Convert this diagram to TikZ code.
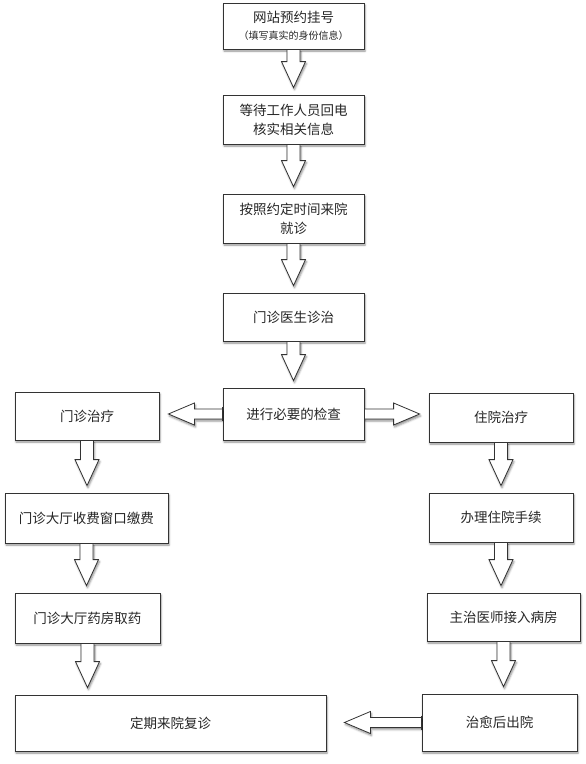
\documentclass[tikz,border=0pt]{standalone}
\usepackage{fontspec}
\newfontfamily\cjk{Noto Sans CJK SC}
\usetikzlibrary{calc,shadows.blur}
\tikzset{
  myshadow/.style={blur shadow={shadow xshift=1pt, shadow yshift=-2pt, shadow blur radius=2pt, shadow opacity=45}},
  box/.style={draw=black!80, line width=0.8pt, fill=white, align=center, inner sep=0pt,
    font=\cjk\fontsize{13.5}{19}\selectfont, text=black!85, myshadow},
  blockarrow/.style={draw=black!80, line width=0.8pt, fill=white, line join=miter, myshadow},
  edgeline/.style={draw=black!80, line width=0.8pt},
}
\newcommand\vblock[2]{%
  \draw[blockarrow] let \p1=(#1.south), \p2=(#2.north) in
    (\x1-6.5pt,\y1) -- (\x1-6.5pt,\y2+33pt) -- (\x1-12pt,\y2+33pt) -- (\x1,\y2+7pt)
    -- (\x1+12pt,\y2+33pt) -- (\x1+6.5pt,\y2+33pt) -- (\x1+6.5pt,\y1);
  \draw[edgeline] let \p1=(#1.south) in (\x1-8pt,\y1) -- (\x1+8pt,\y1);}
\newcommand\lblock[3]{%
  \draw[blockarrow] let \p1=(#1.west), \p2=(#2.east) in
    (\x1,\y1+5pt) -- (\x2+#3pt+26pt,\y1+5pt) -- (\x2+#3pt+26pt,\y1+11pt) -- (\x2+#3pt,\y1)
    -- (\x2+#3pt+26pt,\y1-11pt) -- (\x2+#3pt+26pt,\y1-5pt) -- (\x1,\y1-5pt);
  \draw[edgeline] let \p1=(#1.west) in (\x1,\y1+7pt) -- (\x1,\y1-7pt);}
\newcommand\rblock[3]{%
  \draw[blockarrow] let \p1=(#1.east), \p2=(#2.west) in
    (\x1,\y1+5pt) -- (\x2-#3pt-26pt,\y1+5pt) -- (\x2-#3pt-26pt,\y1+11pt) -- (\x2-#3pt,\y1)
    -- (\x2-#3pt-26pt,\y1-11pt) -- (\x2-#3pt-26pt,\y1-5pt) -- (\x1,\y1-5pt);
  \draw[edgeline] let \p1=(#1.east) in (\x1,\y1+7pt) -- (\x1,\y1-7pt);}
\begin{document}
\begin{tikzpicture}[x=1pt,y=-1pt]
\useasboundingbox (0,0) rectangle (586,764);
% centre column
\node[box, minimum width=141pt, minimum height=46pt] (n1) at (293.5,26)
  {网站预约挂号\\[-2pt]{\fontsize{10}{14}\selectfont （填写真实的身份信息）}};
\node[box, minimum width=141pt, minimum height=49pt] (n2) at (293.5,119.5) {等待工作人员回电\\核实相关信息};
\node[box, minimum width=141pt, minimum height=49pt] (n3) at (293.5,218.5) {按照约定时间来院\\就诊};
\node[box, minimum width=141pt, minimum height=48pt] (n4) at (293.5,317) {门诊医生诊治};
\node[box, minimum width=141pt, minimum height=52pt] (n5) at (293.5,414) {进行必要的检查};
% left column
\node[box, minimum width=144pt, minimum height=48pt] (l1) at (87,416) {门诊治疗};
\node[box, minimum width=163pt, minimum height=50pt] (l2) at (86.5,518) {门诊大厅收费窗口缴费};
\node[box, minimum width=145pt, minimum height=50pt] (l3) at (87.5,618) {门诊大厅药房取药};
\node[box, minimum width=311pt, minimum height=56pt] (l4) at (170.5,723) {定期来院复诊};
% right column
\node[box, minimum width=144pt, minimum height=49pt] (r1) at (501,417.5) {住院治疗};
\node[box, minimum width=144pt, minimum height=49pt] (r2) at (501,517.5) {办理住院手续};
\node[box, minimum width=153pt, minimum height=48pt] (r3) at (503.5,617) {主治医师接入病房};
\node[box, minimum width=155pt, minimum height=57pt] (r4) at (499.5,722.5) {治愈后出院};
% arrows
\vblock{n1}{n2}
\vblock{n2}{n3}
\vblock{n3}{n4}
\vblock{n4}{n5}
\lblock{n5}{l1}{9}
\rblock{n5}{r1}{9}
\vblock{l1}{l2}
\vblock{l2}{l3}
\vblock{l3}{l4}
\vblock{r1}{r2}
\vblock{r2}{r3}
\vblock{r3}{r4}
\lblock{r4}{l4}{18}
\end{tikzpicture}
\end{document}
